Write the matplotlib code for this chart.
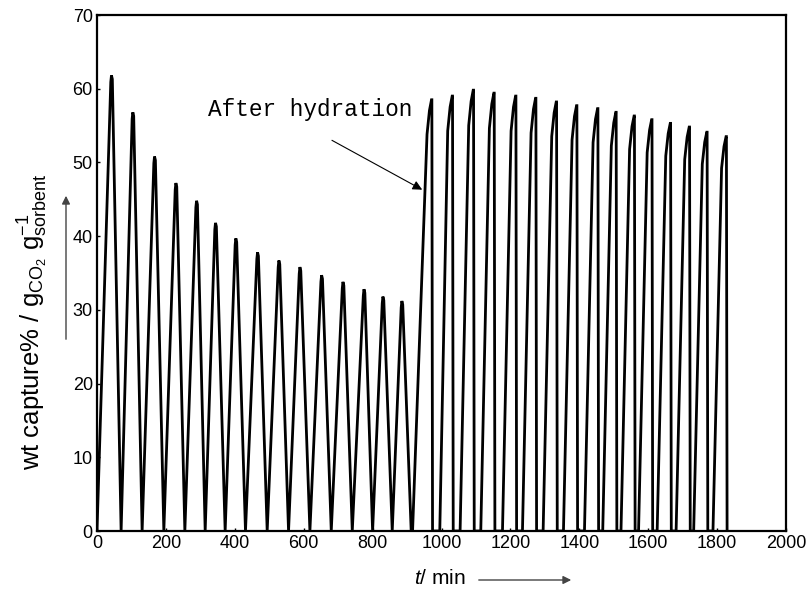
import matplotlib
matplotlib.use("Agg")
import matplotlib.pyplot as plt
from matplotlib.patches import FancyArrowPatch
import numpy as np

# ---------------- data ----------------
# Phase 1: triangular cycles before hydration
p1_valley_t = [0, 70, 131, 194, 255, 314, 372, 431, 494, 556, 618, 680, 741, 800, 857, 912]
p1_peak_t = [43, 105, 168, 230, 290, 345, 404, 467, 529, 590, 653, 715, 776, 831, 886]
p1_peak_v = [61.8, 56.8, 50.8, 47.2, 44.8, 41.8, 39.7, 37.8, 36.7, 35.8, 34.7, 33.8, 32.8, 31.8, 31.2]

# Phase 2: saw-tooth cycles after hydration
p2_start_t = [916, 995, 1054, 1114, 1177, 1235, 1295, 1354, 1415, 1468, 1521, 1572, 1626, 1681, 1732, 1788]
p2_peak_t = [971, 1031, 1092, 1152, 1215, 1273, 1333, 1392, 1453, 1506, 1559, 1610, 1664, 1719, 1770, 1826]
p2_peak_v = [58.5, 59.0, 59.8, 59.4, 59.0, 58.7, 58.2, 57.7, 57.3, 56.8, 56.3, 55.8, 55.3, 54.8, 54.1, 53.5]

x_ticks = [0, 200, 400, 600, 800, 1000, 1200, 1400, 1600, 1800, 2000]
y_ticks = [0, 10, 20, 30, 40, 50, 60, 70]

annot_text = 'After hydration'
annot_text_pos = (323, 57.2)
annot_tail = (682, 53.0)
annot_tip = (944, 46.3)

# ---------------- build the trace ----------------
t, y = [], []
for i, (tp, vp) in enumerate(zip(p1_peak_t, p1_peak_v)):
    t += [p1_valley_t[i], tp - 3, tp - 1, tp + 1.5]
    y += [0.0, vp - 0.9, vp, vp - 0.5]
t.append(p1_valley_t[-1]); y.append(0.0)
for ts, tp, vp in zip(p2_start_t, p2_peak_t, p2_peak_v):
    t += [ts, tp - 13, tp - 6, tp, tp + 1, tp + 3]
    y += [0.0, 0.92 * vp, 0.975 * vp, vp, vp, 0.0]
t = np.array(t); y = np.array(y)

# ---------------- figure ----------------
plt.rcParams['font.family'] = ['Liberation Sans', 'DejaVu Sans']
plt.rcParams['mathtext.fontset'] = 'custom'
plt.rcParams['mathtext.rm'] = 'Liberation Sans'
plt.rcParams['mathtext.it'] = 'Liberation Sans:italic'

W, H = 810, 592
fig = plt.figure(figsize=(W / 100, H / 100), dpi=100)
ax = fig.add_axes([97 / W, 1 - 531 / H, (786 - 97) / W, (531 - 15) / H])

ax.plot(t, y, color='black', lw=2.0, solid_joinstyle='miter')

ax.set_xlim(0, 2000)
ax.set_ylim(0, 70)
ax.set_xticks(x_ticks)
ax.set_yticks(y_ticks)
ax.tick_params(direction='in', length=2, width=1, labelsize=13, pad=3)
for s in ax.spines.values():
    s.set_linewidth(1.6)

ax.text(*annot_text_pos, annot_text, fontsize=16.4, family='Liberation Mono',
        va='center', ha='left')
ax.annotate('', xy=annot_tip, xytext=annot_tail,
            arrowprops=dict(arrowstyle='-|>', color='black', lw=0.8,
                            mutation_scale=14, shrinkA=0, shrinkB=0),
            annotation_clip=False)

# y label
fig.text(33 / W, 1 - 322 / H,
         r'wt capture% / g$_{\mathrm{CO_2}}$ g$^{-1}_{\mathrm{sorbent}}$',
         rotation=90, ha='center', va='center', fontsize=18.5)
fig.patches.append(FancyArrowPatch(
    (66 / W, 1 - 342 / H), (66 / W, 1 - 193 / H), transform=fig.transFigure,
    arrowstyle='-|>', mutation_scale=12, color='#444444', lw=1.0))

# x label
fig.text(440 / W, 1 - 578 / H, r'$t$/ min', ha='center', va='center', fontsize=15)
fig.patches.append(FancyArrowPatch(
    (476 / W, 1 - 580 / H), (574 / W, 1 - 580 / H), transform=fig.transFigure,
    arrowstyle='-|>', mutation_scale=12, color='#444444', lw=1.0))

fig.savefig('out.png', dpi=100)
